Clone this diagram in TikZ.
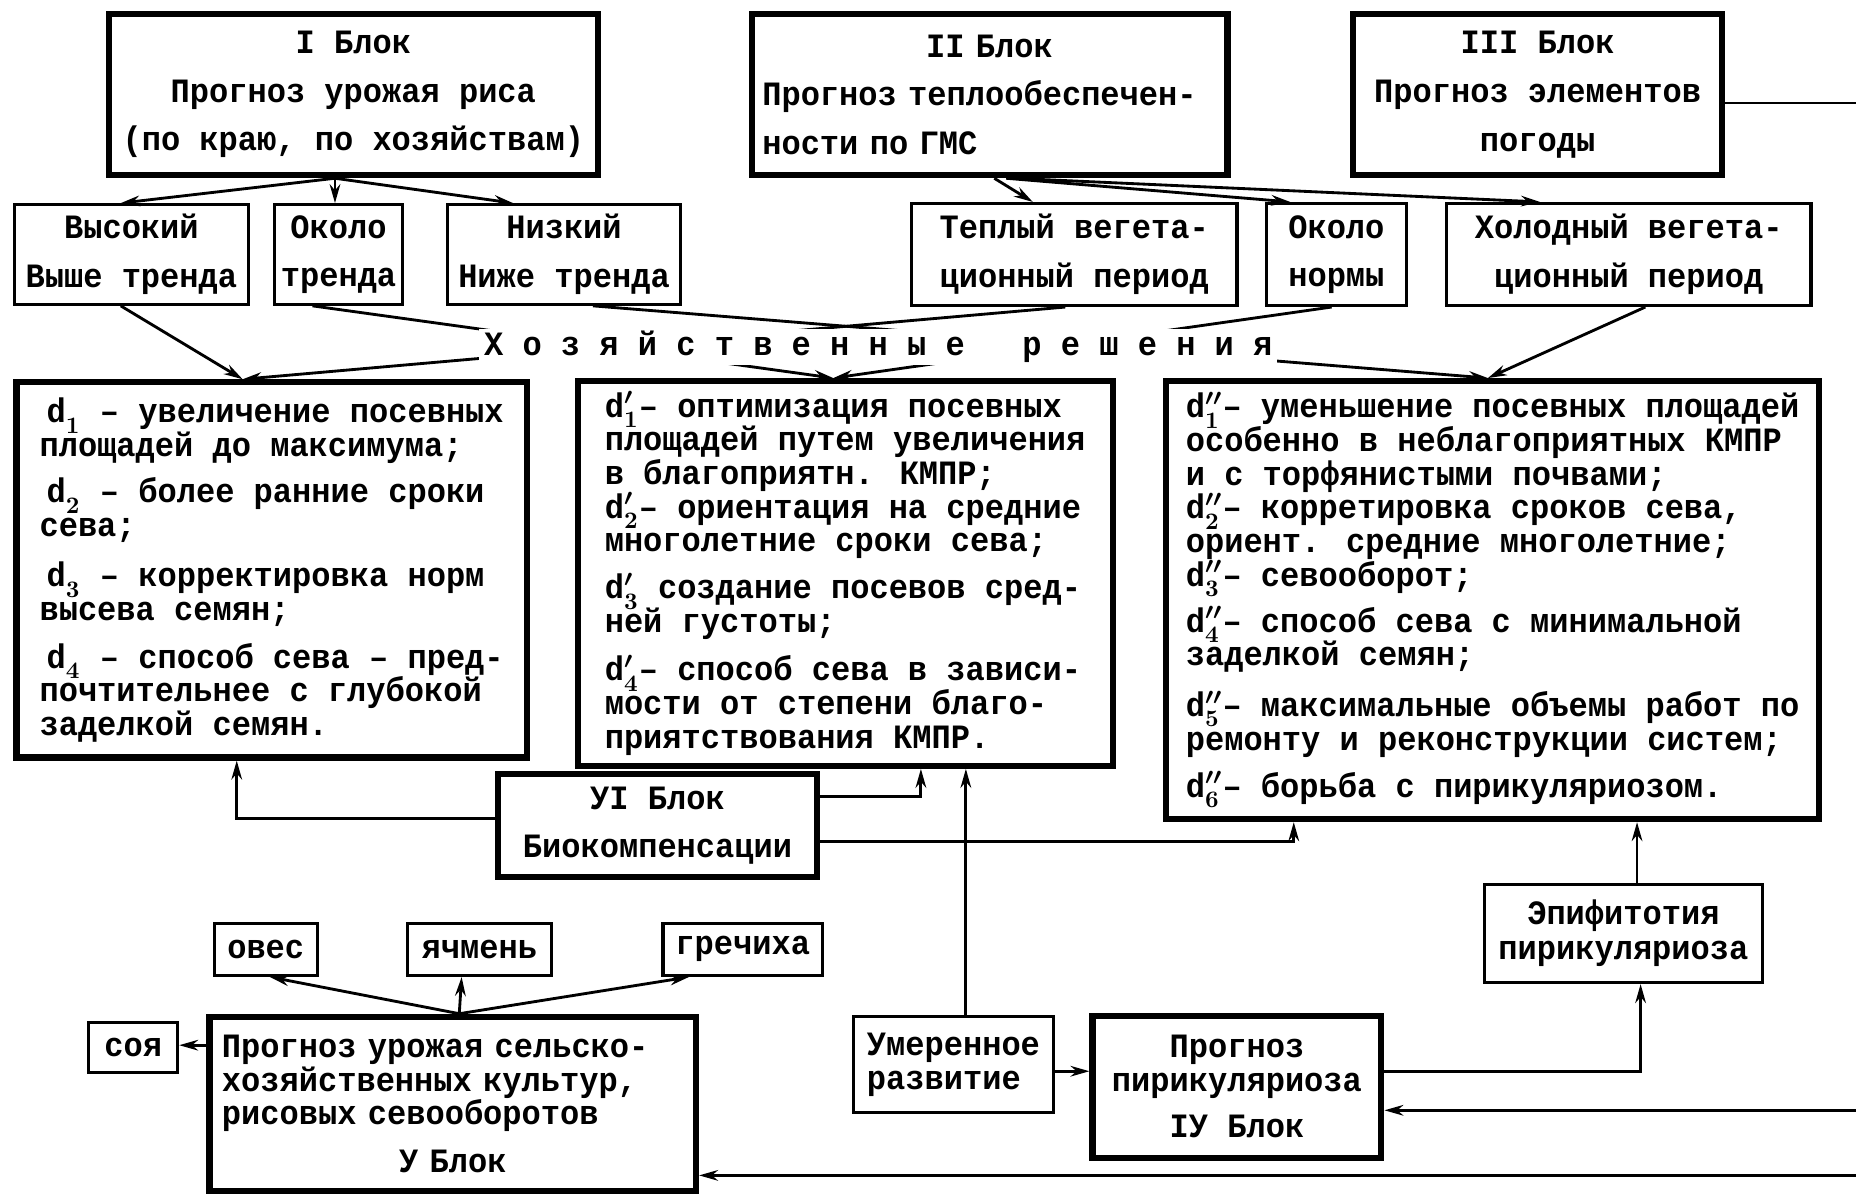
\documentclass[tikz,border=0pt]{standalone}
\usepackage{fontspec}
\setmainfont{Liberation Mono}[FakeStretch=0.94]
\usetikzlibrary{arrows.meta}

% typewriter face, line pitch given as argument
\newcommand\twfont[1]{\fontsize{14.4pt}{#1}\selectfont\bfseries\boldmath\lineskiplimit=-\maxdimen}
% decision symbol: d with primes and index
\newcommand\dsym[2]{d$^{#1}_{#2}$}

\tikzset{
  blk/.style={draw, line width=2.6pt, inner sep=2pt},
  opt/.style={draw, line width=1.4pt, inner sep=2pt},
  wide/.style={font={\twfont{20.5pt}}},
  dense/.style={font={\twfont{14.2pt}}},
  link/.style={line width=1.2pt},
}

\begin{document}
\begin{tikzpicture}[x=0.5pt, y=-0.5pt, >={Stealth[length=8pt,width=4.5pt]}]
  \fill[white] (0,0) rectangle (1568,1010);
  \useasboundingbox (0,0) rectangle (1568,1010);

  % Blocks I, II, III
  \node[blk, wide, align=center, minimum width=206.5pt, minimum height=68pt] (blkI) at (298.5,80)
    {I Блок\\Прогноз урожая риса\\(по краю, по хозяйствам)};
  \node[blk, wide, text width=192pt, align=left, minimum width=201pt, minimum height=68pt] (blkII) at (836,80)
    {\makebox[\hsize]{II Блок}\\Прогноз теплообеспечен-\\ности по ГМС};
  \node[blk, wide, align=center, minimum width=156pt, minimum height=68pt] (blkIII) at (1299,80)
    {III Блок\\Прогноз элементов\\погоды};

  % Yield and season classes
  \node[opt, wide, align=center, minimum width=99pt, minimum height=42pt] (high) at (111,215) {Высокий\\Выше тренда};
  \node[opt, wide, align=center, minimum width=54pt, minimum height=42pt] (neartr) at (286,215) {Около\\тренда};
  \node[opt, wide, align=center, minimum width=98.5pt, minimum height=42pt] (low) at (476.5,215) {Низкий\\Ниже тренда};
  \node[opt, wide, align=center, minimum width=137.5pt, minimum height=43pt] (warm) at (907.5,215) {Теплый вегета-\\ционный период};
  \node[opt, wide, align=center, minimum width=59pt, minimum height=43pt] (nearnorm) at (1129,215) {Около\\нормы};
  \node[opt, wide, align=center, minimum width=154pt, minimum height=43pt] (cold) at (1376,215) {Холодный вегета-\\ционный период};

  % Decisions d, d', d''
  \node[blk, dense, align=left, minimum width=215.5pt, minimum height=158.5pt] (dec1) at (229.5,481.5) {%
    \hspace*{3pt}\dsym{}{1} – увеличение посевных\\
    площадей до максимума;\\[5.5pt]
    \hspace*{3pt}\dsym{}{2} – более ранние сроки\\
    сева;\\[7pt]
    \hspace*{3pt}\dsym{}{3} – корректировка норм\\
    высева семян;\\[6pt]
    \hspace*{3pt}\dsym{}{4} – способ сева – пред-\\
    почтительнее с глубокой\\
    заделкой семян.};
  \node[blk, dense, align=left, minimum width=226pt, minimum height=162.5pt] (dec2) at (714,484.5) {%
    \dsym{\prime}{1}– оптимизация посевных\\
    площадей путем увеличения\\
    в благоприятн. КМПР;\\
    \dsym{\prime}{2}– ориентация на средние\\
    многолетние сроки сева;\\[5.75pt]
    \dsym{\prime}{3} создание посевов сред-\\
    ней густоты;\\[6.25pt]
    \dsym{\prime}{4}– способ сева в зависи-\\
    мости от степени благо-\\
    приятствования КМПР.};
  \node[blk, dense, align=left, minimum width=276pt, minimum height=185pt] (dec3) at (1261,507) {%
    \dsym{\prime\prime}{1}– уменьшение посевных площадей\\
    особенно в неблагоприятных КМПР\\
    и с торфянистыми почвами;\\
    \dsym{\prime\prime}{2}– корретировка сроков сева,\\
    ориент. средние многолетние;\\
    \dsym{\prime\prime}{3}– севооборот;\\[5.25pt]
    \dsym{\prime\prime}{4}– способ сева с минимальной\\
    заделкой семян;\\[7.25pt]
    \dsym{\prime\prime}{5}– максимальные объемы работ по\\
    ремонту и реконструкции систем;\\[5.75pt]
    \dsym{\prime\prime}{6}– борьба с пирикуляриозом.};

  % Block VI
  \node[blk, font={\twfont{20pt}}, align=center, minimum width=134.5pt, minimum height=43.5pt] (bio) at (555.5,697.5)
    {УI Блок\\Биокомпенсации};

  % Block V and crops
  \node[opt, dense, minimum width=43.5pt, minimum height=22pt] (oats) at (224.5,802) {овес};
  \node[opt, dense, minimum width=61pt, minimum height=22pt] (barley) at (405,802) {ячмень};
  \node[opt, dense, minimum width=67.5pt, minimum height=22pt] (buckw) at (627.5,802) {гречиха};
  \node[opt, dense, minimum width=37.5pt, minimum height=21pt] (soy) at (112.5,885) {соя};
  \node[blk, dense, text width=195pt, align=left, minimum width=205.5pt, minimum height=73.5pt] (blkV) at (382.5,932.5)
    {Прогноз урожая сельско-\\хозяйственных культур,\\рисовых севооборотов\\[5.75pt]\makebox[\hsize]{У Блок}};

  % Block IV and its outcomes
  \node[opt, dense, align=left, minimum width=84.5pt, minimum height=40.5pt] (moder) at (805.5,899.5) {Умеренное\\развитие};
  \node[blk, dense, align=center, minimum width=122pt, minimum height=60pt] (blkIV) at (1045,918)
    {Прогноз\\пирикуляриоза\\[5.5pt]IУ Блок};
  \node[opt, font={\twfont{15pt}}, align=center, minimum width=117.5pt, minimum height=41.5pt] (epi) at (1371.5,788.5)
    {Эпифитотия\\пирикуляриоза};

  % Block I -> classes
  \draw[link,->] ([xshift=-7.75pt]blkI.south) -- ([xshift=-4.5pt]high.north);
  \draw[link,->] ([xshift=-7.75pt]blkI.south) -- ([xshift=-1.5pt]neartr.north);
  \draw[link,->] ([xshift=-7.75pt]blkI.south) -- ([xshift=-21.5pt]low.north);

  % Block II -> classes
  \draw[link,->] ([xshift=2pt]blkII.south) -- ([xshift=-17.5pt]warm.north);
  \draw[link,->] ([xshift=7pt]blkII.south) -- ([xshift=-19.5pt]nearnorm.north);
  \draw[link,->] ([xshift=10pt]blkII.south) -- ([xshift=-37.5pt]cold.north);

  % classes -> decisions
  \draw[link,->] ([xshift=-4.5pt]high.south) -- ([xshift=-12.25pt]dec1.north);
  \draw[link,->] ([xshift=-3.75pt]warm.south) -- ([xshift=-12.25pt]dec1.north);
  \draw[link,->] ([xshift=-11pt]neartr.south) -- ([xshift=-5pt]dec2.north);
  \draw[link,->] ([xshift=-2pt]nearnorm.south) -- ([xshift=-5pt]dec2.north);
  \draw[link,->] ([xshift=12.25pt]low.south) -- ([xshift=-2pt]dec3.north);
  \draw[link,->] ([xshift=7pt]cold.south) -- ([xshift=-2pt]dec3.north);

  % Block VI -> decisions
  \draw[link,->] ([yshift=3pt]bio.west) -| ([xshift=-14.75pt]dec1.south);
  \draw[link,->] ([yshift=12.25pt]bio.east) -| ([xshift=32pt]dec2.south);
  \draw[link,->] ([yshift=-6.75pt]bio.east) -| ([xshift=-84pt]dec3.south);

  % Block V -> crops
  \draw[link,->] ([xshift=2.75pt]blkV.north) -- ([xshift=1.75pt]oats.south);
  \draw[link,->] ([xshift=2.75pt]blkV.north) -- ([xshift=-7.5pt]barley.south);
  \draw[link,->] ([xshift=2.75pt]blkV.north) -- ([xshift=-22.75pt]buckw.south);
  \coordinate (soyin) at ([yshift=24.75pt]blkV.west);
  \draw[link,->] (soyin) -- (soyin -| soy.east);

  % Block IV links
  \coordinate (moderout) at ([yshift=-2.75pt]moder.east);
  \draw[link,->] (moderout) -- (moderout -| blkIV.west);
  \coordinate (moderup) at ([xshift=5.25pt]moder.north);
  \draw[link,->] (moderup) -- (moderup |- dec2.south);
  \draw[link,->] ([yshift=6.5pt]blkIV.east) -| ([xshift=7.25pt]epi.south);
  \coordinate (epiup) at ([xshift=5.75pt]epi.north);
  \draw[link,->] (epiup) -- (epiup |- dec3.south);

  % Block III feeds IV and V round the right side
  \coordinate (rim) at (1600,87);
  \draw[link] ([yshift=-3.5pt]blkIII.east) -- (rim);
  \draw[link,->] (rim) |- ([yshift=-10pt]blkIV.east);
  \draw[link,->] (rim) |- ([yshift=-30.25pt]blkV.east);

  % Label over the crossing lines
  \node[fill=white, inner xsep=2pt, inner ysep=1pt, font={\twfont{13.75pt}}] (econ) at (742,293)
    {Х о з я й с т в е н н ы е\ \ \ р е ш е н и я};
\end{tikzpicture}
\end{document}
